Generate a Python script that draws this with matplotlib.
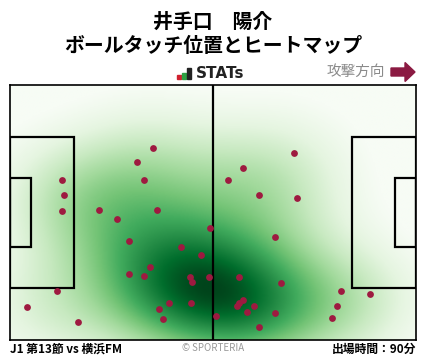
import numpy as np
import matplotlib
matplotlib.use("Agg")
import matplotlib.pyplot as plt
from matplotlib.patches import Rectangle, FancyArrow

plt.rcParams['font.family'] = ['Noto Sans CJK JP', 'DejaVu Sans']

# touch positions in pitch metres (x: 0-105 attacking right, y: 0-68 from top)
touch_x = [37.1, 32.9, 13.5, 34.7, 14.0, 13.5, 23.1, 38.1, 27.8, 51.7,
           30.9, 44.3, 49.5, 36.3, 30.9, 34.7, 46.6, 47.1, 51.5, 12.2,
           4.5, 41.2, 46.9, 38.6, 39.6, 17.7,
           73.5, 60.3, 56.5, 64.5, 74.3, 68.6, 59.3, 70.2, 85.7, 93.2,
           60.3, 59.3, 58.8, 63.2, 84.6, 61.4, 68.6, 53.3, 83.4, 64.5]
touch_y = [16.9, 20.6, 25.4, 25.2, 29.2, 33.7, 33.4, 33.4, 35.6, 38.2,
           41.7, 43.3, 45.2, 48.6, 50.5, 50.8, 51.3, 52.4, 51.3, 55.0,
           59.3, 58.0, 58.0, 59.6, 62.5, 63.3,
           18.0, 22.0, 25.2, 29.4, 30.0, 40.6, 51.3, 52.9, 55.0, 55.6,
           57.2, 58.2, 59.0, 59.0, 59.0, 60.4, 60.9, 61.7, 62.2, 64.6]

player = "井手口　陽介"
title2 = "ボールタッチ位置とヒートマップ"
match_label = "J1 第13節 vs 横浜FM"
minutes_label = "出場時間：90分"

L, W = 105.0, 68.0

fig = plt.figure(figsize=(4.28, 3.59), dpi=100)
ax = fig.add_axes([10 / 428, 19 / 359, 406 / 428, 255 / 359])

# simple gaussian kde on a grid
gx = np.linspace(0, L, 300)
gy = np.linspace(0, W, 200)
X, Y = np.meshgrid(gx, gy)
px = np.array(touch_x)
py = np.array(touch_y)
sx, sy = 13.0, 11.0
Z = np.zeros_like(X)
for a, b in zip(px, py):
    Z += np.exp(-((X - a) ** 2 / (2 * sx ** 2) + (Y - b) ** 2 / (2 * sy ** 2)))
Z = Z / Z.max()
Z = np.clip((Z - 0.04) / 0.96, 0, 1) ** 0.95
ax.imshow(Z, extent=(0, L, W, 0), origin='upper', cmap='Greens',
          vmin=0.0, vmax=1.0, aspect='auto', interpolation='bilinear', zorder=1)

# pitch lines
lc = 'black'
lw = 1.6
ax.plot([L / 2, L / 2], [0, W], color=lc, lw=lw, zorder=2)
pb_w, pb_h = 16.5, 40.3
ga_w, ga_h = 5.5, 18.3
ax.add_patch(Rectangle((0, (W - pb_h) / 2), pb_w, pb_h, fill=False, ec=lc, lw=lw, zorder=2))
ax.add_patch(Rectangle((0, (W - ga_h) / 2), ga_w, ga_h, fill=False, ec=lc, lw=lw, zorder=2))
ax.add_patch(Rectangle((L - pb_w, (W - pb_h) / 2), pb_w, pb_h, fill=False, ec=lc, lw=lw, zorder=2))
ax.add_patch(Rectangle((L - ga_w, (W - ga_h) / 2), ga_w, ga_h, fill=False, ec=lc, lw=lw, zorder=2))

ax.scatter(touch_x, touch_y, s=24, color='#9e1a40', zorder=3, linewidths=0)

ax.set_xlim(0, L)
ax.set_ylim(W, 0)
ax.set_xticks([])
ax.set_yticks([])
for s in ax.spines.values():
    s.set_linewidth(1.2)
    s.set_color('black')

# header texts
fig.text(213 / 428, 1 - 21 / 359, player, ha='center', va='center',
         fontsize=14.3, fontweight='bold')
fig.text(213 / 428, 1 - 46 / 359, title2, ha='center', va='center',
         fontsize=14.3, fontweight='bold')

# STATs logo
bars = [(177, 4, '#d0202e'), (182, 6, '#2ea043'), (187, 11, '#222222')]
for bx, bh, bc in bars:
    fig.patches.append(Rectangle((bx / 428, 1 - 79 / 359), 4 / 428, bh / 359,
                                 transform=fig.transFigure, color=bc, figure=fig))
fig.text(196 / 428, 1 - 73.5 / 359, "STATs", ha='left', va='center',
         fontsize=11, fontweight='bold', color='#222222', family='DejaVu Sans')

fig.text(385 / 428, 1 - 72 / 359, "攻撃方向", ha='right', va='center',
         fontsize=10.5, color='#8a8a8a')
fig.patches.append(FancyArrow(391 / 428, 1 - 72 / 359, 14 / 428, 0,
                              width=8 / 359, head_width=19 / 359, head_length=10 / 428,
                              length_includes_head=False, transform=fig.transFigure,
                              color='#8b1a42', figure=fig))

# footer
fig.text(10 / 428, 1 - 349 / 359, match_label, ha='left', va='center',
         fontsize=8.5, fontweight='bold')
fig.text(213 / 428, 1 - 348 / 359, "© SPORTERIA", ha='center', va='center',
         fontsize=7, color='#999999')
fig.text(416 / 428, 1 - 349 / 359, minutes_label, ha='right', va='center',
         fontsize=8.5, fontweight='bold')

fig.savefig("out.png", dpi=100)
